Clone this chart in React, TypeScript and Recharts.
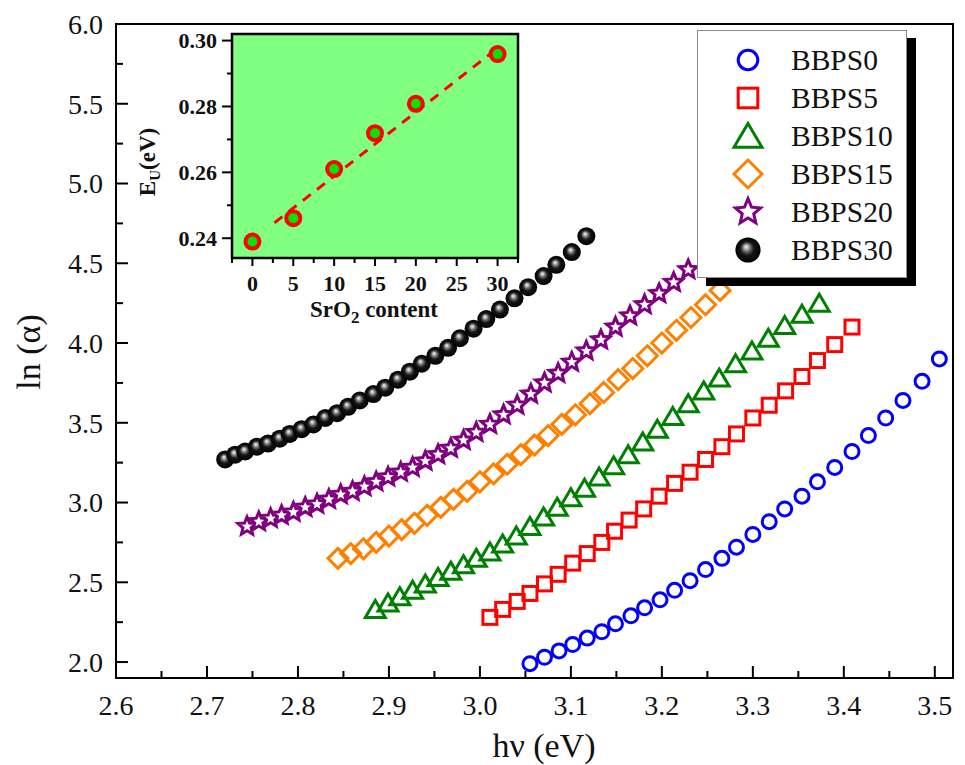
import React from "react";
import {
  CartesianGrid,
  Legend,
  ReferenceArea,
  Scatter,
  ScatterChart,
  XAxis,
  YAxis,
} from "recharts";

const FONT = "'Liberation Serif', 'Times New Roman', serif";

// main plot: ln(alpha) against photon energy (eV)
const bbps0X = [3.055, 3.071, 3.087, 3.102, 3.118, 3.134, 3.149, 3.166, 3.181, 3.198, 3.214, 3.231, 3.248, 3.266, 3.282, 3.3, 3.318, 3.335, 3.354, 3.371, 3.39, 3.409, 3.427, 3.446, 3.465, 3.486, 3.505];
const bbps0Y = [1.99, 2.03, 2.07, 2.11, 2.15, 2.19, 2.24, 2.29, 2.34, 2.39, 2.45, 2.51, 2.58, 2.65, 2.72, 2.8, 2.88, 2.96, 3.04, 3.13, 3.22, 3.32, 3.42, 3.53, 3.64, 3.76, 3.9];

const bbps5X = [3.011, 3.025, 3.041, 3.055, 3.071, 3.086, 3.102, 3.118, 3.134, 3.148, 3.164, 3.18, 3.197, 3.214, 3.231, 3.248, 3.266, 3.282, 3.3, 3.318, 3.336, 3.354, 3.371, 3.39, 3.409];
const bbps5Y = [2.28, 2.33, 2.38, 2.43, 2.49, 2.55, 2.62, 2.68, 2.75, 2.82, 2.89, 2.96, 3.04, 3.12, 3.19, 3.27, 3.35, 3.43, 3.53, 3.61, 3.7, 3.79, 3.89, 3.99, 4.1];

const bbps10X = [2.885, 2.899, 2.912, 2.926, 2.94, 2.954, 2.968, 2.982, 2.996, 3.011, 3.025, 3.04, 3.055, 3.07, 3.085, 3.1, 3.115, 3.131, 3.147, 3.163, 3.179, 3.195, 3.212, 3.229, 3.246, 3.263, 3.281, 3.299, 3.317, 3.335, 3.354, 3.373];
const bbps10Y = [2.33, 2.37, 2.41, 2.45, 2.49, 2.53, 2.57, 2.61, 2.65, 2.69, 2.74, 2.79, 2.85, 2.91, 2.97, 3.03, 3.09, 3.16, 3.23, 3.3, 3.38, 3.46, 3.54, 3.62, 3.7, 3.78, 3.87, 3.95, 4.03, 4.11, 4.18, 4.25];

const bbps15X = [2.844, 2.858, 2.872, 2.886, 2.9, 2.914, 2.928, 2.942, 2.957, 2.971, 2.986, 3.0, 3.015, 3.03, 3.045, 3.06, 3.075, 3.09, 3.105, 3.121, 3.136, 3.152, 3.168, 3.184, 3.2, 3.216, 3.232, 3.248, 3.264];
const bbps15Y = [2.65, 2.68, 2.71, 2.75, 2.79, 2.83, 2.87, 2.92, 2.97, 3.02, 3.07, 3.13, 3.18, 3.24, 3.3, 3.36, 3.42, 3.49, 3.55, 3.62, 3.69, 3.77, 3.84, 3.92, 4.0, 4.08, 4.16, 4.24, 4.33];

const bbps20X = [2.744, 2.757, 2.77, 2.782, 2.795, 2.808, 2.821, 2.834, 2.847, 2.86, 2.873, 2.886, 2.899, 2.913, 2.926, 2.94, 2.954, 2.968, 2.982, 2.996, 3.011, 3.026, 3.041, 3.056, 3.071, 3.086, 3.101, 3.117, 3.133, 3.149, 3.165, 3.181, 3.197, 3.213, 3.229];
const bbps20Y = [2.85, 2.88, 2.9, 2.92, 2.94, 2.97, 2.99, 3.02, 3.05, 3.07, 3.1, 3.13, 3.16, 3.19, 3.22, 3.26, 3.3, 3.34, 3.39, 3.44, 3.49, 3.55, 3.61, 3.68, 3.75, 3.81, 3.88, 3.95, 4.02, 4.1, 4.17, 4.24, 4.31, 4.38, 4.46];

const bbps30X = [2.72, 2.731, 2.742, 2.755, 2.767, 2.78, 2.791, 2.804, 2.817, 2.83, 2.843, 2.855, 2.868, 2.883, 2.896, 2.91, 2.923, 2.936, 2.951, 2.965, 2.978, 2.993, 3.007, 3.022, 3.038, 3.053, 3.07, 3.084, 3.101, 3.117];
const bbps30Y = [3.27, 3.3, 3.32, 3.35, 3.37, 3.4, 3.43, 3.46, 3.49, 3.53, 3.56, 3.6, 3.64, 3.68, 3.72, 3.77, 3.82, 3.87, 3.92, 3.97, 4.03, 4.09, 4.15, 4.21, 4.28, 4.35, 4.42, 4.49, 4.57, 4.67];

const xMajor = [2.6, 2.7, 2.8, 2.9, 3.0, 3.1, 3.2, 3.3, 3.4, 3.5];
const xMinor = [2.65, 2.75, 2.85, 2.95, 3.05, 3.15, 3.25, 3.35, 3.45];
const yMajor = [2.0, 2.5, 3.0, 3.5, 4.0, 4.5, 5.0, 5.5, 6.0];
const yMinor = [2.25, 2.75, 3.25, 3.75, 4.25, 4.75, 5.25, 5.75];

// inset: Urbach energy against SrO2 content
const srContent = [0, 5, 10, 15, 20, 30];
const urbachE = [0.239, 0.2461, 0.261, 0.2719, 0.2808, 0.2959];
const fitX = [2.7, 30];
const fitY = [0.2447, 0.2977];

const insetXMajor = [0, 5, 10, 15, 20, 25, 30];
const insetXMinor = [-2.5, 2.5, 7.5, 12.5, 17.5, 22.5, 27.5, 32.5];
const insetYMajor = [0.24, 0.26, 0.28, 0.3];
const insetYMinor = [0.25, 0.27, 0.29];

const toPoints = (xs: number[], ys: number[]) => xs.map((x, i) => ({ x, y: ys[i] }));

type P = { cx?: number; cy?: number };

function starPoints(cx: number, cy: number, R: number, r: number) {
  const pts: string[] = [];
  for (let i = 0; i < 10; i++) {
    const a = -Math.PI / 2 + (i * Math.PI) / 5;
    const rad = i % 2 === 0 ? R : r;
    pts.push(`${cx + rad * Math.cos(a)},${cy + rad * Math.sin(a)}`);
  }
  return pts.join(" ");
}

const circleShape = (cx: number, cy: number, s = 1) => (
  <circle cx={cx} cy={cy} r={7 * s} fill="none" stroke="#0000ff" strokeWidth={3} />
);
const squareShape = (cx: number, cy: number, s = 1) => (
  <rect x={cx - 7 * s} y={cy - 7 * s} width={14 * s} height={14 * s} fill="none" stroke="#ff0000" strokeWidth={3} />
);
const triangleShape = (cx: number, cy: number, s = 1) => (
  <polygon
    points={`${cx},${cy - 9 * s} ${cx + 10 * s},${cy + 8 * s} ${cx - 10 * s},${cy + 8 * s}`}
    fill="none"
    stroke="#008000"
    strokeWidth={3}
  />
);
const diamondShape = (cx: number, cy: number, s = 1) => (
  <polygon
    points={`${cx},${cy - 10 * s} ${cx + 10 * s},${cy} ${cx},${cy + 10 * s} ${cx - 10 * s},${cy}`}
    fill="none"
    stroke="#ff8000"
    strokeWidth={3}
  />
);
const starShape = (cx: number, cy: number, s = 1) => (
  <polygon points={starPoints(cx, cy, 9.5 * s, 4.3 * s)} fill="#fff" stroke="#800080" strokeWidth={3} />
);
const sphereShape = (cx: number, cy: number, s = 1) => (
  <circle cx={cx} cy={cy} r={9 * s} fill="url(#sphereGrad)" />
);

const series = [
  { name: "BBPS0", data: toPoints(bbps0X, bbps0Y), draw: circleShape },
  { name: "BBPS5", data: toPoints(bbps5X, bbps5Y), draw: squareShape },
  { name: "BBPS10", data: toPoints(bbps10X, bbps10Y), draw: triangleShape },
  { name: "BBPS15", data: toPoints(bbps15X, bbps15Y), draw: diamondShape },
  { name: "BBPS20", data: toPoints(bbps20X, bbps20Y), draw: starShape },
  { name: "BBPS30", data: toPoints(bbps30X, bbps30Y), draw: sphereShape },
];

function MainXTick({ x, y, payload }: any) {
  const major = xMajor.includes(payload.value);
  return (
    <g>
      <line x1={x} y1={y} x2={x} y2={y - (major ? 12 : 7)} stroke="#000" strokeWidth={2} />
      {major && (
        <text x={x} y={y + 27} dy="0.35em" textAnchor="middle" fontFamily={FONT} fontSize={28} fill="#111">
          {payload.value.toFixed(1)}
        </text>
      )}
    </g>
  );
}

function MainYTick({ x, y, payload }: any) {
  const major = yMajor.includes(payload.value);
  return (
    <g>
      <line x1={x} y1={y} x2={x + (major ? 12 : 7)} y2={y} stroke="#000" strokeWidth={2} />
      {major && (
        <text x={x - 13} y={y} dy="0.35em" textAnchor="end" fontFamily={FONT} fontSize={28} fill="#111">
          {payload.value.toFixed(1)}
        </text>
      )}
    </g>
  );
}

function InsetXTick({ x, y, payload }: any) {
  const major = insetXMajor.includes(payload.value);
  return (
    <g>
      <line x1={x} y1={y} x2={x} y2={y + (major ? 8 : 5)} stroke="#000" strokeWidth={2} />
      {major && (
        <text x={x} y={y + 25} dy="0.35em" textAnchor="middle" fontFamily={FONT} fontWeight="bold" fontSize={22} fill="#111">
          {payload.value}
        </text>
      )}
    </g>
  );
}

function InsetYTick({ x, y, payload }: any) {
  const major = insetYMajor.includes(payload.value);
  return (
    <g>
      <line x1={x} y1={y} x2={x - (major ? 10 : 5)} y2={y} stroke="#000" strokeWidth={2} />
      {major && (
        <text x={x - 15} y={y} dy="0.35em" textAnchor="end" fontFamily={FONT} fontWeight="bold" fontSize={22} fill="#111">
          {payload.value.toFixed(2)}
        </text>
      )}
    </g>
  );
}

function LegendBox() {
  return (
    <div
      style={{
        width: 208,
        height: 236,
        background: "#fff",
        border: "1px solid #8a8a8a",
        boxShadow: "9px 8px 0 #000",
        fontFamily: FONT,
        fontSize: 29.5,
        color: "#111",
        paddingTop: 10,
        boxSizing: "content-box",
      }}
    >
      {series.map((s) => (
        <div key={s.name} style={{ display: "flex", alignItems: "center", height: 38 }}>
          <svg width={100} height={38} style={{ display: "block" }}>
            {s.draw(50, 19, 1.4)}
          </svg>
          <span style={{ marginLeft: -7, lineHeight: "38px" }}>{s.name}</span>
        </div>
      ))}
    </div>
  );
}

function Inset() {
  return (
    <div style={{ position: "absolute", left: 100, top: 20 }}>
      <ScatterChart width={440} height={310} margin={{ top: 14, right: 22, bottom: 0, left: 0 }}>
        <CartesianGrid horizontal={false} vertical={false} fill="#80ff80" fillOpacity={1} />
        <XAxis
          type="number"
          dataKey="x"
          domain={[-2.5, 32.5]}
          ticks={[...insetXMinor, ...insetXMajor].sort((a, b) => a - b)}
          interval={0}
          tickSize={0}
          tickMargin={0}
          tickLine={false}
          axisLine={false}
          tick={<InsetXTick />}
          height={72}
          allowDataOverflow
          label={{
            content: () => (
              <text x={274} y={297} textAnchor="middle" fontFamily={FONT} fontWeight="bold" fontSize={23} fill="#111">
                <tspan>SrO</tspan>
                <tspan dy={6} fontSize={17}>2</tspan>
                <tspan dy={-6}> content</tspan>
              </text>
            ),
          }}
        />
        <YAxis
          type="number"
          dataKey="y"
          domain={[0.234, 0.302]}
          ticks={[...insetYMinor, ...insetYMajor].sort((a, b) => a - b)}
          interval={0}
          tickSize={0}
          tickMargin={0}
          tickLine={false}
          axisLine={false}
          tick={<InsetYTick />}
          width={132}
          allowDataOverflow
          label={{
            content: () => (
              <text
                transform="translate(55,142) rotate(-90)"
                textAnchor="middle"
                fontFamily={FONT}
                fontWeight="bold"
                fontSize={23}
                fill="#111"
              >
                <tspan>E</tspan>
                <tspan dy={5} fontSize={15}>U</tspan>
                <tspan dy={-5}>(eV)</tspan>
              </text>
            ),
          }}
        />
        <ReferenceArea x1={-2.5} x2={32.5} y1={0.234} y2={0.302} fill="none" stroke="#000" strokeWidth={2.5} />
        <Scatter
          data={toPoints(fitX, fitY)}
          line={{ stroke: "#ff0000", strokeWidth: 3, strokeDasharray: "10 8" }}
          shape={() => <g />}
          isAnimationActive={false}
        />
        <Scatter
          data={toPoints(srContent, urbachE)}
          shape={({ cx, cy }: P) => (
            <circle cx={cx} cy={cy} r={7} fill="#00e600" stroke="#ff0000" strokeWidth={4} />
          )}
          isAnimationActive={false}
        />
      </ScatterChart>
    </div>
  );
}

export default function App() {
  return (
    <div style={{ position: "absolute", left: 0, top: 0, width: 965, height: 765, background: "#fff" }}>
      <svg width={0} height={0} style={{ position: "absolute" }}>
        <defs>
          <radialGradient id="sphereGrad" cx="0.5" cy="0.5" r="0.5" fx="0.42" fy="0.36">
            <stop offset="0" stopColor="#f4f4f4" />
            <stop offset="0.14" stopColor="#c4c4c4" />
            <stop offset="0.32" stopColor="#6a6a6a" />
            <stop offset="0.55" stopColor="#151515" />
            <stop offset="1" stopColor="#000" />
          </radialGradient>
        </defs>
      </svg>
      <ScatterChart width={965} height={765} margin={{ top: 24, right: 12, bottom: 0, left: 0 }}>
        <XAxis
          type="number"
          dataKey="x"
          domain={[2.6, 3.52]}
          ticks={[...xMinor, ...xMajor].sort((a, b) => a - b)}
          interval={0}
          tickSize={0}
          tickMargin={0}
          tickLine={false}
          axisLine={false}
          tick={<MainXTick />}
          height={87}
          allowDataOverflow
          label={{
            content: () => (
              <text x={544} y={757} textAnchor="middle" fontFamily={FONT} fontSize={34} fill="#111">
                hν (eV)
              </text>
            ),
          }}
        />
        <YAxis
          type="number"
          dataKey="y"
          domain={[1.9, 6]}
          ticks={[...yMinor, ...yMajor].sort((a, b) => a - b)}
          interval={0}
          tickSize={0}
          tickMargin={0}
          tickLine={false}
          axisLine={false}
          tick={<MainYTick />}
          width={116}
          allowDataOverflow
          label={{
            content: () => (
              <text transform="translate(40,352) rotate(-90)" textAnchor="middle" fontFamily={FONT} fontSize={34} fill="#111">
                ln (α)
              </text>
            ),
          }}
        />
        <ReferenceArea x1={2.6} x2={3.52} y1={1.9} y2={6} fill="none" stroke="#000" strokeWidth={2} />
        {series.map((s) => (
          <Scatter
            key={s.name}
            name={s.name}
            data={s.data}
            shape={({ cx = 0, cy = 0 }: P) => s.draw(cx, cy)}
            isAnimationActive={false}
          />
        ))}
        <Legend
          layout="horizontal"
          verticalAlign="middle"
          align="center"
          content={() => <LegendBox />}
          wrapperStyle={{ left: 697, top: 30, width: 210, height: 248 }}
        />
      </ScatterChart>
      <Inset />
    </div>
  );
}
